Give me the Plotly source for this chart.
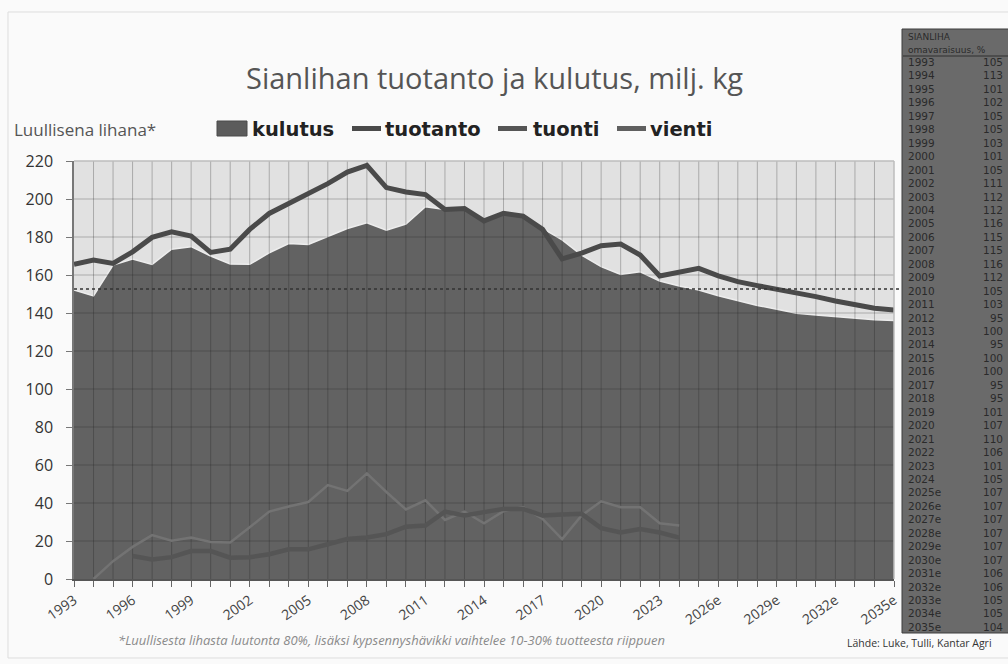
import plotly.graph_objects as go

# --- data (milj. kg, luullisena lihana) ---
vuodet = ["1993", "1994", "1995", "1996", "1997", "1998", "1999", "2000", "2001", "2002",
          "2003", "2004", "2005", "2006", "2007", "2008", "2009", "2010", "2011", "2012",
          "2013", "2014", "2015", "2016", "2017", "2018", "2019", "2020", "2021", "2022",
          "2023", "2024", "2025e", "2026e", "2027e", "2028e", "2029e", "2030e", "2031e",
          "2032e", "2033e", "2034e", "2035e"]

kulutus = [152.1, 149, 165.2, 168.4, 165.6, 173.6, 174.9, 170, 165.8, 165.6,
           171.7, 176.6, 176.1, 180.5, 184.5, 187.5, 183.6, 186.8, 195.9, 194.5,
           195.3, 189.2, 192.7, 191.5, 184.5, 178.5, 170.5, 164.4, 160.3, 161.7,
           156.8, 154.2, 152.1, 149.1, 146.5, 144, 142, 139.9, 139, 138.1,
           137.2, 136.4, 136]

tuotanto = [165.6, 167.9, 166.1, 172.2, 179.8, 182.7, 180.5, 171.9, 173.6, 184,
            192.4, 197.6, 203.4, 208.1, 214.2, 217.7, 206, 203.7, 202.3, 194.5,
            195, 188.5, 192.5, 191, 184, 168.5, 171.5, 175.4, 176.3, 170.5,
            159.5, 161.7, 163.5, 159.5, 156.5, 154.4, 152.6, 150.4, 148.6, 146.3,
            144.6, 142.5, 141.6]

tuonti = [None, None, None, 12.1, 10.3, 11.5, 14.7, 14.7, 11.2, 11.5,
          13, 15.6, 15.6, 18.3, 21, 21.8, 23.6, 27.5, 28.1, 35.5,
          33.4, 35.2, 36.9, 36.9, 33.4, 33.9, 34.3, 26.8, 24.5, 26.3,
          24.5, 21.8] + [None] * 11

vienti = [None, 0, 9.4, 16.9, 23.1, 20.1, 21.8, 19.5, 19.2, 27.2,
          35.5, 38.2, 40.5, 49.4, 46.4, 55.6, 45.8, 36.6, 41.4, 31.1,
          35.5, 29.3, 35.7, 37.8, 31.6, 21, 33.4, 40.9, 37.8, 37.8,
          29.3, 28.1] + [None] * 11

omavaraisuus = [105, 113, 101, 102, 105, 105, 103, 101, 105, 111,
                112, 112, 116, 115, 115, 116, 112, 105, 103, 95,
                100, 95, 100, 100, 95, 95, 101, 107, 110, 106,
                101, 105, 107, 107, 107, 107, 107, 107, 106, 106,
                105, 105, 104]

vertailutaso = 152.6
y_ticks = [0, 20, 40, 60, 80, 100, 120, 140, 160, 180, 200, 220]

# --- layout helpers (pixel -> paper) ---
W, H = 1008, 664
ML, MR, MT, MB = 74, 114, 161, 85
PW, PH = W - ML - MR, H - MT - MB


def px(x):
    return (x - ML) / PW


def py(y):
    return (H - MB - y) / PH


fig = go.Figure()

# kulutus area
fig.add_trace(go.Scatter(x=vuodet, y=kulutus, mode="lines", fill="tozeroy",
                         fillcolor="#626262", line=dict(color="#ededed", width=1.5),
                         hoverinfo="skip"))

# gridlines drawn over the area (as in the original)
gx, gy = [], []
for c in vuodet[1:-1]:
    gx += [c, c, None]
    gy += [0, y_ticks[-1], None]
for t in y_ticks[1:-1]:
    gx += [vuodet[0], vuodet[-1], None]
    gy += [t, t, None]
fig.add_trace(go.Scatter(x=gx, y=gy, mode="lines", connectgaps=False,
                         line=dict(color="rgba(30,30,30,0.28)", width=1),
                         hoverinfo="skip"))

fig.add_trace(go.Scatter(x=vuodet, y=vienti, mode="lines",
                         line=dict(color="#737373", width=2.5)))
fig.add_trace(go.Scatter(x=vuodet, y=tuonti, mode="lines",
                         line=dict(color="#555555", width=4.5)))
fig.add_trace(go.Scatter(x=vuodet, y=tuotanto, mode="lines",
                         line=dict(color="#4a4a4a", width=5)))

ticktext = [v if i % 3 == 0 else "" for i, v in enumerate(vuodet)]

fig.update_xaxes(type="category", range=[0, len(vuodet) - 1],
                 tickmode="array", tickvals=vuodet, ticktext=ticktext,
                 tickangle=-35, ticks="outside", ticklen=6, tickcolor="#666",
                 showgrid=False, showline=True, linecolor="#555", linewidth=1.5,
                 tickfont=dict(family="Open Sans", size=14, color="#444"))
fig.update_yaxes(range=[0, 220], tickvals=y_ticks, ticks="outside", ticklen=6,
                 tickcolor="#777", showgrid=False, zeroline=False,
                 showline=True, linecolor="#777", linewidth=1.5,
                 ticklabelstandoff=10,
                 tickfont=dict(family="Open Sans", size=16, color="#333"))

shapes = [
    # outer chart box
    dict(type="rect", xref="paper", yref="paper", x0=px(8), x1=px(1015), y0=py(658), y1=py(12),
         line=dict(color="#dddddd", width=1), fillcolor="rgba(0,0,0,0)", layer="below"),
    # light top / right plot border
    dict(type="line", xref="paper", yref="paper", x0=0, x1=1, y0=1, y1=1,
         line=dict(color="#bdbdbd", width=1.5)),
    dict(type="line", xref="paper", yref="paper", x0=1, x1=1, y0=0, y1=1,
         line=dict(color="#bdbdbd", width=1.5)),
    # dashed reference level
    dict(type="line", xref="paper", yref="y", x0=0, x1=px(903), y0=vertailutaso, y1=vertailutaso,
         line=dict(color="#333", width=1.5, dash="dot")),
    # side table
    dict(type="rect", xref="paper", yref="paper", x0=px(902), x1=px(1020), y0=py(633), y1=py(29),
         line=dict(color="#3c3c3c", width=1), fillcolor="#6a6a6a"),
    dict(type="line", xref="paper", yref="paper", x0=px(903), x1=px(1020), y0=py(56), y1=py(56),
         line=dict(color="#2e2e2e", width=1)),
]

annotations = [
    dict(text="Sianlihan tuotanto ja kulutus, milj. kg", x=px(494), y=py(78),
         font=dict(family="Open Sans", size=29, color="#555")),
    dict(text="Luullisena lihana*", x=px(12), y=py(129), xanchor="left",
         font=dict(family="Open Sans", size=17, color="#555")),
    dict(text="*Luullisesta lihasta luutonta 80%, lisäksi kypsennyshävikki vaihtelee 10-30% tuotteesta riippuen",
         x=px(391), y=py(640), font=dict(family="Open Sans", size=13, color="#8a8a8a", style="italic")),
    dict(text="Lähde: Luke, Tulli, Kantar Agri", x=px(994), y=py(643), xanchor="right",
         font=dict(family="Open Sans", size=10.5, color="#333")),
]

# custom legend row
legend_items = [("kulutus", "box", 217, 250), ("tuotanto", "line", 352, 383),
                ("tuonti", "line", 498, 531), ("vienti", "line", 617, 648)]
legend_colors = {"kulutus": "#5c5c5c", "tuotanto": "#4a4a4a", "tuonti": "#555555", "vienti": "#5f5f5f"}
for name, kind, sx, tx in legend_items:
    if kind == "box":
        shapes.append(dict(type="rect", xref="paper", yref="paper", x0=px(sx), x1=px(sx + 30),
                           y0=py(136), y1=py(121), fillcolor=legend_colors[name],
                           line=dict(color="#4a4a4a", width=1)))
    else:
        shapes.append(dict(type="line", xref="paper", yref="paper", x0=px(sx), x1=px(sx + 29),
                           y0=py(128.5), y1=py(128.5), line=dict(color=legend_colors[name], width=5)))
    annotations.append(dict(text="<b>" + name + "</b>", x=px(tx), y=py(129), xanchor="left",
                            font=dict(family="DejaVu Sans", size=19.5, color="#222")))

# side table text
annotations.append(dict(text="SIANLIHA", x=px(906), y=py(37), xanchor="left",
                        font=dict(family="DejaVu Sans", size=9, color="#2a2a2a")))
annotations.append(dict(text="omavaraisuus, %", x=px(906), y=py(50), xanchor="left",
                        font=dict(family="DejaVu Sans", size=9, color="#2a2a2a")))
for i, (v, o) in enumerate(zip(vuodet, omavaraisuus)):
    yy = py(62 + i * 13.45)
    annotations.append(dict(text=v, x=px(906), y=yy, xanchor="left",
                            font=dict(family="DejaVu Sans", size=10.5, color="#2a2a2a")))
    annotations.append(dict(text=str(o), x=px(1005), y=yy, xanchor="right",
                            font=dict(family="DejaVu Sans", size=10.5, color="#2a2a2a")))

for a in annotations:
    a.setdefault("xref", "paper")
    a.setdefault("yref", "paper")
    a.setdefault("showarrow", False)
    a.setdefault("yanchor", "middle")

fig.update_layout(width=W, height=H, margin=dict(l=ML, r=MR, t=MT, b=MB),
                  paper_bgcolor="#fafafa", plot_bgcolor="#e1e1e1",
                  showlegend=False, shapes=shapes, annotations=annotations,
                  hovermode=False)

# drop the browser's default 8px body margin so the figure sits at the window origin
fig.write_html("out.html", config={"displayModeBar": False},
               post_script="document.body.style.margin='0px';")
